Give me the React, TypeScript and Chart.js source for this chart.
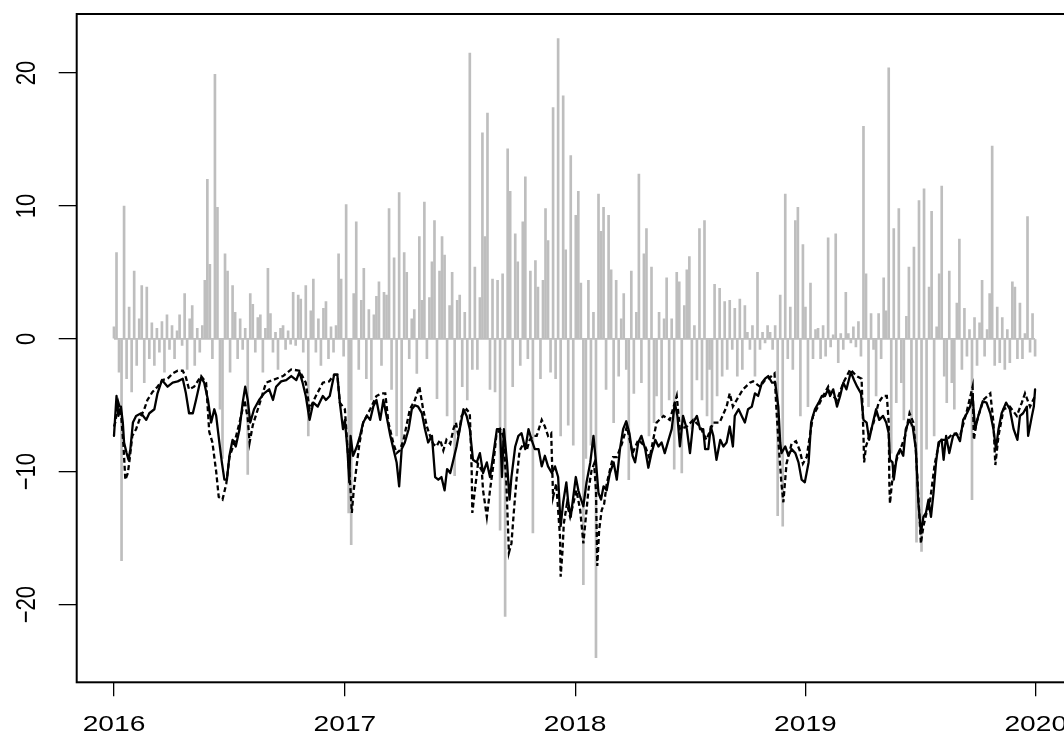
import React, { useEffect, useRef } from "react";
import { Chart, registerables } from "chart.js";

Chart.register(...registerables);

// ---------- data ----------
const yearTicks = [2016, 2017, 2018, 2019, 2020];
const yTicks = [-20, -10, 0, 10, 20];

// days between consecutive samples of the grey (daily change) series, starting 2016-01-01
const GRAY_STEP = 4;
const grayPart1 = [
  0.9, 6.5, -2.5, -16.7, 10.0, -3.0, 2.4, -4.0, 5.1, -2.0,
  1.5, 4.0, -3.3, 3.9, -1.5, 1.2, -2.0, 0.8, -1.0, 1.3,
  -2.5, 1.8, -0.8, 1.0, -1.5, 0.6, 1.8, -0.5, 3.4, -2.3,
  1.5, 2.5, -2.0, 0.8, -1.0, 1.0, 4.4, 12.0, 5.6, -1.5,
  19.9, 9.9, -5.3, -9.0, 6.4, 5.1, -2.5, 4.0, 2.0, -1.5,
  1.5, -0.8, 0.8, -10.2, 3.4, 2.6, -1.0, 1.6, 1.8, -2.5,
  0.8, 5.3, 1.9, -1.0, 0.5, -2.3, 0.8, 1.0, -0.8, 0.6,
  -0.4, 3.5, -0.5, 3.3, 3.0, -1.0, 4.0, -7.3, 2.1, 4.5,
  -1.0, 1.5, -2.0, 2.3, 2.8, -1.5, 0.9, -1.0, 1.0, 6.4,
  4.5, -1.3,
];
const grayPart2 = [
  10.1, -13.1, -15.5, 3.4, 8.8, -2.3, 2.9, 5.3, -3.0, 2.2,
  -4.6, 1.8, 3.2, 4.3, -2.0, 3.5, 3.3, 9.8, -3.8, 6.1,
  -7.3, 11.0, -8.3, 6.5, 5.0, -1.5, 1.5, 2.2, -2.6, 7.7,
  2.9, 10.3, -1.5, 3.1, 5.8, 8.9, -4.5, 5.1, 7.7, 6.3,
  -5.8, 2.5, 5.0, -10.3, 2.9, 3.3, -3.6, 2.0, -4.6, 21.5,
  -2.3, 5.4, -2.3, 3.1, 15.5, 7.7, 17.0, -3.8, 4.5, -4.0,
  4.4, -14.4, 4.9, -20.9, 14.3, 11.1, -3.6, 7.9, 5.8, -2.0,
  8.8, 12.2, -1.5, 5.1, -14.6, 5.9, 3.9, -3.0, 4.4, 9.8,
  7.4, -2.5, 17.4, -3.0, 22.6, -7.3, 18.3, 6.7, -6.5, 13.8,
  -8.0, 9.3, 11.1,
];
const grayPart3 = [
  4.2, -18.5, -9.0, 4.4, -8.0, 2.0, -24.0, 10.9, 8.1, 9.9,
  -3.8, 9.3, 5.2, -6.3, 4.4, -2.8, 1.5, 3.4, -2.3, -10.6,
  5.1, -4.1, 2.0, 12.4, -3.3, 6.4, 8.3, -7.3, 5.4, -6.3,
  -4.3, 2.0, -5.8, 1.5, 4.6, -4.6, 1.5, -9.8, 5.0, 4.3,
  -10.1, 2.5, 5.2, 6.2, -6.8, 1.0, -3.1, 8.3, -4.6, 8.9,
  -5.8, -2.3, -6.6, 4.1, -4.3, 3.8, -2.8, 2.8, -2.3, 2.9,
  -0.8, 2.3, -2.8, 3.0, -2.3, 2.5, 0.5, -0.8, 1.0, -2.8,
  5.0, -0.8, 0.5, -0.3, 1.0, 0.5, -0.8, 1.0, -13.3, 3.3,
  -14.1, 10.9, -1.5, 2.4, -2.3, 8.9, 9.9, -5.8, 7.1, 2.4,
  -5.1, 4.2, -1.5, 0.7, 0.8, -1.5, 1.0, -1.3, 7.6,
];
const grayPart4 = [
  -0.6, 0.3, 7.9, -1.8, 0.4, -0.8, 3.5, 0.4, -0.3, 0.9,
  -0.6, 1.3, -1.3, 16.0, 4.9, -5.1, 1.9, -0.8, -4.3, 1.9,
  -1.5, 4.6, 2.1, 20.4, -8.6, 8.3, -4.8, 9.8, -3.3, -6.1,
  1.7, 5.4, -6.6, 6.9, -15.3, 10.4, -16.0, 11.3, -8.3, 3.9,
  9.6, -7.3, 0.9, 4.9, 11.5, -2.8, -4.8, 5.1, -3.3, -5.3,
  2.7, 7.5, -2.3, 2.3, -1.3, 0.7, -12.1, 1.6, -2.0, 1.2,
  4.4, -1.3, 0.7, 3.4, 14.5, -2.0, 2.4, -1.8, 1.6, -2.3,
  0.7, -1.8, 4.3, 3.9, -1.5, 2.7, -1.5, 0.4, 9.2, -1.0,
  1.9, -1.3,
];

// solid black series: day offset from 2016-01-01 and value
const solidDays = [
  0, 4, 7, 11, 14, 16, 20, 23, 26, 30, 35, 43, 51, 56, 64, 69, 76, 85, 93, 101,
  109, 114, 119, 125, 130, 138, 143, 149, 154, 159, 162, 167, 171, 175, 179, 183, 188, 193, 199, 204,
  208, 212, 216, 222, 230, 238, 246, 252, 257, 265, 273, 281, 289, 294, 299, 304, 310, 316, 323, 331,
  336, 342, 349, 354, 358, 363, 366, 370, 373, 375, 379, 385, 390, 395, 401, 406, 411, 416, 422, 427,
  432, 438, 443, 448, 452, 456, 461, 467, 472, 477, 482, 488, 493, 498, 504, 509, 514, 519, 524, 528,
  533, 538, 543, 548, 554, 559, 564, 569, 575, 580, 585, 591, 596, 601, 607, 612, 615, 618, 623, 627,
  630, 636, 641, 646, 652, 657, 662, 667, 673, 678, 683, 688, 694, 699, 704, 708, 712, 717, 720, 724,
  728, 732, 736, 739, 744, 749, 755, 760, 764, 768, 772, 776, 781, 786, 792, 797, 802, 807, 812, 817,
  822, 826, 831, 836, 842, 847, 852, 858, 863, 868, 873, 879, 884, 889, 893, 897, 902, 908, 913, 918,
  924, 929, 934, 937, 942, 946, 950, 955, 961, 966, 971, 976, 981, 984, 990, 995, 1000, 1005, 1011, 1016,
  1021, 1027, 1032, 1037, 1043, 1048, 1053, 1056, 1058, 1064, 1069, 1074, 1080, 1085, 1090, 1095, 1101, 1105, 1111, 1117,
  1122, 1127, 1132, 1135, 1140, 1146, 1151, 1156, 1161, 1168, 1173, 1178, 1184, 1188, 1193, 1197, 1203, 1208, 1213, 1219,
  1224, 1228, 1230, 1234, 1236, 1241, 1246, 1251, 1255, 1261, 1266, 1271, 1275, 1279, 1283, 1287, 1291, 1295, 1299, 1303,
  1307, 1312, 1315, 1319, 1324, 1330, 1335, 1341, 1346, 1352, 1357, 1361, 1365, 1370, 1377, 1383, 1389, 1394, 1398, 1402,
  1407, 1414, 1420, 1426, 1432, 1436, 1441, 1447, 1449, 1455, 1458, 1460,
];
const solidValues = [
  -7.3, -4.3, -5.8, -5.1, -6.3, -7.8, -8.6, -9.1, -8.3, -6.3, -5.8, -5.6, -6.1, -5.6, -5.3, -4.1, -3.1, -3.6, -3.3, -3.2,
  -3.0, -4.1, -5.6, -5.6, -4.6, -2.9, -3.3, -4.6, -6.3, -5.3, -5.8, -7.8, -9.3, -10.6, -10.6, -8.8, -7.6, -8.1, -6.8, -4.8,
  -3.6, -4.6, -6.3, -5.3, -4.6, -4.1, -3.8, -4.6, -3.6, -3.2, -3.1, -2.8, -3.1, -2.5, -3.3, -4.3, -6.1, -4.8, -5.1, -4.3,
  -4.6, -4.3, -2.7, -2.7, -4.8, -6.8, -6.1, -8.3, -10.8, -7.3, -8.8, -8.1, -7.3, -6.3, -5.8, -6.1, -5.1, -4.6, -6.1, -4.6,
  -5.8, -7.3, -8.3, -9.3, -11.1, -8.3, -7.8, -6.8, -5.3, -5.0, -5.1, -5.6, -6.8, -7.8, -7.3, -10.4, -10.6, -10.4, -11.4, -9.8,
  -10.1, -9.1, -8.1, -6.8, -5.3, -5.8, -6.8, -9.1, -9.3, -8.6, -10.1, -9.3, -10.4, -8.8, -6.8, -6.8, -10.4, -6.8, -9.3, -12.1,
  -10.4, -8.1, -7.3, -7.1, -8.3, -6.8, -7.6, -8.3, -8.3, -9.6, -8.8, -9.6, -10.1, -9.6, -10.4, -14.1, -12.3, -10.8, -12.3, -13.4,
  -11.9, -10.4, -11.4, -11.9, -12.6, -10.8, -9.3, -7.3, -9.3, -11.6, -12.1, -11.1, -11.4, -10.1, -9.3, -10.6, -8.3, -6.8, -6.2, -7.1,
  -8.8, -9.3, -7.8, -7.3, -8.3, -9.7, -8.6, -7.6, -8.1, -7.8, -8.6, -7.6, -6.8, -4.8, -5.8, -8.1, -5.8, -6.8, -8.6, -6.3,
  -5.8, -6.8, -6.8, -8.3, -8.3, -6.6, -7.3, -9.1, -7.6, -8.1, -7.8, -6.6, -8.1, -5.8, -5.3, -5.8, -6.3, -5.3, -5.1, -4.1,
  -4.3, -3.3, -3.0, -2.8, -3.3, -3.3, -5.1, -7.8, -8.6, -8.1, -8.8, -8.3, -8.6, -9.3, -10.6, -10.8, -9.3, -6.3, -5.3, -4.8,
  -4.3, -4.3, -3.8, -4.3, -3.8, -5.1, -4.3, -3.3, -3.8, -2.5, -3.1, -3.6, -4.1, -6.1, -6.3, -7.6, -6.3, -5.3, -6.1, -5.8,
  -6.3, -7.1, -9.1, -9.3, -10.6, -8.8, -8.3, -8.8, -6.8, -6.1, -6.6, -8.3, -12.3, -14.6, -13.4, -13.1, -12.1, -13.4, -11.6, -9.3,
  -7.8, -7.6, -9.1, -7.3, -8.6, -7.3, -7.1, -7.7, -6.1, -5.6, -5.1, -4.3, -6.8, -5.8, -4.7, -4.8, -5.6, -6.8, -8.3, -6.8,
  -5.6, -4.8, -5.3, -6.8, -7.6, -5.8, -5.6, -5.1, -7.3, -5.8, -5.1, -3.8,
];

// dashed black series: day offset from 2016-01-01 and value
const dashedDays = [
  0, 2, 7, 11, 15, 18, 22, 25, 29, 35, 41, 48, 53, 61, 69, 77, 85, 93, 101, 109,
  114, 119, 127, 138, 146, 151, 156, 162, 166, 172, 178, 183, 191, 199, 207, 212, 215, 220, 228, 241,
  257, 268, 281, 294, 304, 310, 320, 331, 341, 349, 354, 358, 366, 371, 375, 377, 380, 385, 389, 395,
  406, 416, 424, 430, 435, 443, 448, 453, 459, 469, 477, 484, 490, 496, 501, 506, 511, 517, 522, 527,
  533, 538, 542, 546, 551, 559, 564, 567, 568, 572, 577, 583, 585, 591, 596, 601, 606, 612, 617, 622,
  626, 630, 634, 638, 643, 649, 654, 659, 664, 670, 678, 683, 688, 693, 696, 701, 707, 708, 711, 713,
  718, 723, 728, 733, 739, 744, 747, 752, 757, 761, 764, 766, 769, 773, 777, 781, 786, 791, 797, 805,
  813, 822, 831, 842, 849, 860, 871, 881, 892, 897, 908, 918, 929, 939, 950, 960, 971, 976, 981, 987,
  997, 1008, 1013, 1024, 1032, 1040, 1047, 1050, 1054, 1058, 1061, 1066, 1074, 1081, 1087, 1092, 1098, 1103, 1108, 1116,
  1124, 1132, 1135, 1146, 1156, 1167, 1177, 1185, 1188, 1189, 1192, 1197, 1204, 1212, 1219, 1225, 1228, 1229, 1230, 1233,
  1238, 1246, 1254, 1261, 1267, 1271, 1275, 1279, 1283, 1288, 1293, 1301, 1309, 1320, 1330, 1341, 1351, 1361, 1363, 1367,
  1378, 1389, 1394, 1397, 1402, 1410, 1420, 1431, 1439, 1444, 1452, 1460,
];
const dashedValues = [
  -6.6, -6.3, -4.8, -5.5, -8.0, -10.6, -10.1, -9.0, -7.3, -6.8, -6.0, -5.3, -4.6, -4.0, -3.6, -3.1, -3.0, -2.6, -2.4, -2.4,
  -2.9, -3.8, -3.6, -2.8, -3.3, -7.0, -7.8, -10.0, -11.9, -12.1, -10.9, -8.9, -7.8, -6.3, -4.6, -6.0, -7.8, -6.5, -5.3, -3.3,
  -3.0, -2.8, -2.3, -2.4, -3.3, -5.3, -4.3, -3.3, -3.2, -2.7, -2.7, -4.8, -5.3, -8.8, -11.4, -13.1, -11.4, -9.4, -7.9, -6.3,
  -5.3, -4.3, -4.1, -4.1, -6.3, -7.9, -8.6, -8.4, -7.6, -5.3, -4.6, -3.6, -5.3, -6.6, -7.3, -7.9, -8.1, -7.6, -8.4, -7.6,
  -7.9, -6.8, -6.3, -7.3, -5.8, -5.3, -5.6, -9.9, -13.1, -11.4, -9.4, -9.9, -11.4, -13.4, -11.4, -9.6, -7.3, -6.8, -7.3, -10.9,
  -16.1, -15.4, -12.9, -10.6, -8.4, -7.9, -8.4, -7.6, -7.3, -7.3, -6.1, -6.6, -7.3, -7.1, -11.9, -10.9, -14.9, -17.9, -15.9, -13.9,
  -12.4, -13.4, -12.4, -11.4, -12.9, -15.4, -13.9, -11.4, -9.9, -9.4, -11.4, -17.1, -14.4, -12.9, -12.4, -10.9, -9.9, -8.9, -8.9, -7.9,
  -6.6, -8.6, -7.6, -8.1, -9.0, -6.3, -5.8, -6.1, -4.3, -6.8, -6.6, -6.1, -6.6, -7.6, -6.3, -6.3, -5.1, -4.1, -5.1, -4.6,
  -3.8, -3.3, -3.2, -3.6, -3.1, -2.9, -2.6, -5.3, -8.3, -10.9, -12.3, -9.4, -7.9, -7.7, -8.4, -9.4, -8.9, -7.3, -5.8, -5.1,
  -4.3, -3.6, -4.1, -4.6, -3.3, -2.3, -2.8, -3.0, -7.3, -9.3, -8.1, -7.3, -6.3, -4.8, -4.3, -4.3, -6.3, -10.9, -12.4, -10.9,
  -9.4, -8.4, -7.3, -5.6, -6.3, -8.4, -11.9, -15.4, -14.1, -13.1, -12.4, -9.4, -7.6, -7.6, -7.1, -7.3, -5.6, -3.6, -7.6, -6.3,
  -4.6, -4.1, -6.3, -9.5, -7.3, -5.3, -5.1, -5.8, -4.8, -4.1, -5.1, -4.3,
];

// ---------- helpers ----------
const DAY0 = Date.UTC(2016, 0, 1);
const dayOf = (year: number) => (Date.UTC(year, 0, 1) - DAY0) / 86400000;

const grayValues = [...grayPart1, ...grayPart2, ...grayPart3, ...grayPart4];
const grayData = grayValues.map((v, i) => ({ x: i * GRAY_STEP, y: v }));
const solidData = solidDays.map((d, i) => ({ x: d, y: solidValues[i] }));
const dashedData = dashedDays.map((d, i) => ({ x: d, y: dashedValues[i] }));

const CANVAS_W = 1110;
const CANVAS_H = 733;
const STRETCH = 1.28;
const FONT = '22px "Liberation Sans", Arial, Helvetica, sans-serif';
const GRAY = "#BEBEBE";

// zero baseline of the grey series (the daily line runs along 0 between spikes)
const grayBaselinePlugin = {
  id: "grayBaseline",
  beforeDatasetsDraw(chart: any) {
    const { ctx, scales } = chart;
    const x0 = scales.x.getPixelForValue(0);
    const x1 = scales.x.getPixelForValue((grayValues.length - 1) * GRAY_STEP);
    const y0 = scales.y.getPixelForValue(0);
    ctx.save();
    ctx.strokeStyle = GRAY;
    ctx.lineWidth = 1.6;
    ctx.beginPath();
    ctx.moveTo(x0, y0);
    ctx.lineTo(x1, y0);
    ctx.stroke();
    ctx.restore();
  },
};

const rStylePlugin = {
  id: "rStyle",
  afterDraw(chart: any) {
    const { ctx, chartArea, scales } = chart;
    ctx.save();
    ctx.strokeStyle = "#000";
    ctx.lineWidth = 2;
    ctx.strokeRect(
      chartArea.left,
      chartArea.top,
      chartArea.right - chartArea.left,
      chartArea.bottom - chartArea.top
    );
    ctx.fillStyle = "#000";
    ctx.font = FONT;
    ctx.textAlign = "center";
    ctx.textBaseline = "alphabetic";
    const xs = scales.x;
    yearTicks.forEach((yr) => {
      const px = xs.getPixelForValue(dayOf(yr));
      ctx.save();
      ctx.translate(px, chartArea.bottom + 48.5);
      ctx.scale(STRETCH, 1);
      ctx.fillText(String(yr), 0, 0);
      ctx.restore();
    });
    const ys = scales.y;
    yTicks.forEach((v) => {
      const py = ys.getPixelForValue(v);
      const label = v < 0 ? "\u2212" + Math.abs(v) : String(v);
      ctx.save();
      ctx.translate(chartArea.left - 41.7, py);
      ctx.scale(STRETCH, 1);
      ctx.rotate(-Math.PI / 2);
      ctx.fillText(label, 0, 0);
      ctx.restore();
    });
    ctx.restore();
  },
};

export default function App() {
  const ref = useRef<HTMLCanvasElement | null>(null);

  useEffect(() => {
    if (!ref.current) return;
    const chart = new Chart(ref.current, {
      type: "line",
      data: {
        datasets: [
          {
            type: "line",
            label: "solid",
            data: solidData,
            borderColor: "#000",
            borderWidth: 2.3,
            pointRadius: 0,
            tension: 0,
            borderJoinStyle: "round",
            borderCapStyle: "round",
          },
          {
            type: "line",
            label: "dashed",
            data: dashedData,
            borderColor: "#000",
            borderWidth: 2.3,
            borderDash: [5, 3],
            pointRadius: 0,
            tension: 0,
          },
          {
            type: "bar",
            label: "gray",
            data: grayData,
            backgroundColor: GRAY,
            borderWidth: 0,
            barThickness: 2,
            grouped: false,
          },
        ],
      },
      options: {
        animation: false,
        responsive: false,
        maintainAspectRatio: false,
        events: [],
        layout: { padding: { left: 0, top: 14, right: 37, bottom: 0 } },
        plugins: { legend: { display: false }, tooltip: { enabled: false } },
        scales: {
          x: {
            type: "linear",
            bounds: "data",
            offset: false,
            min: -59.1,
            max: 1520.1,
            afterBuildTicks: (s: any) => {
              s.ticks = yearTicks.map((y) => ({ value: dayOf(y) }));
            },
            afterFit: (s: any) => {
              s.height = 50.7;
            },
            ticks: { display: false },
            grid: {
              display: true,
              offset: false,
              drawOnChartArea: false,
              drawTicks: true,
              tickLength: 14,
              color: "#000",
              lineWidth: 1.3,
            },
            border: { display: false },
          },
          y: {
            type: "linear",
            bounds: "data",
            min: -25.85,
            max: 24.45,
            afterBuildTicks: (s: any) => {
              s.ticks = yTicks.map((v) => ({ value: v }));
            },
            afterFit: (s: any) => {
              s.width = 76.7;
            },
            ticks: { display: false },
            grid: {
              display: true,
              drawOnChartArea: false,
              drawTicks: true,
              tickLength: 18,
              color: "#000",
              lineWidth: 1.3,
            },
            border: { display: false },
          },
        },
      } as any,
      plugins: [grayBaselinePlugin, rStylePlugin],
    });
    return () => chart.destroy();
  }, []);

  return (
    <div
      style={{
        position: "fixed",
        left: 0,
        top: 0,
        width: 1064,
        height: 733,
        overflow: "hidden",
        background: "#fff",
      }}
    >
      <canvas
        ref={ref}
        width={CANVAS_W}
        height={CANVAS_H}
        style={{ width: CANVAS_W, height: CANVAS_H, display: "block" }}
      />
    </div>
  );
}
